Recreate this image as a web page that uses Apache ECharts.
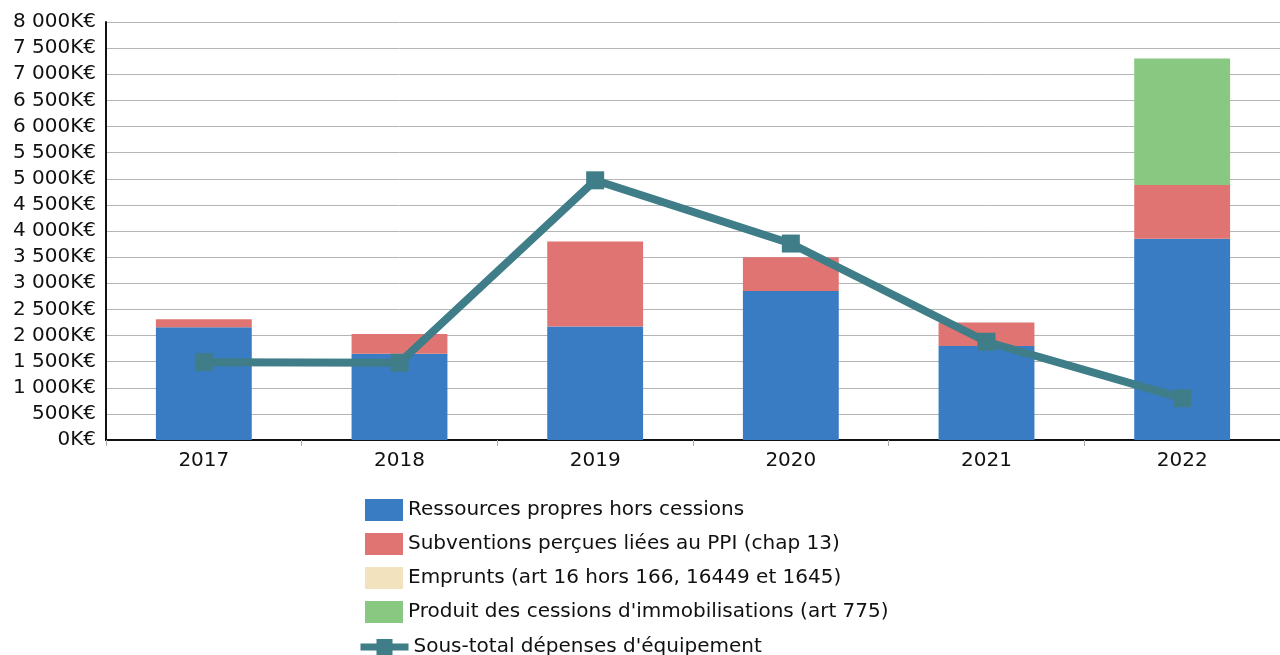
<!DOCTYPE html>
<html>
<head>
<meta charset="utf-8">
<script src="https://cdn.jsdelivr.net/npm/echarts@6/dist/echarts.min.js"></script>
<style>
  html, body { margin: 0; padding: 0; background: #fff; }
  #chart { width: 1280px; height: 655px; }
</style>
</head>
<body>
<div id="chart"></div>
<script>
// Financement des investissements, en K€
const categories = ['2017', '2018', '2019', '2020', '2021', '2022'];
const ressourcesPropres = [2160, 1650, 2170, 2850, 1800, 3850];
const subventions = [150, 380, 1630, 650, 450, 1030];
const emprunts = [0, 0, 0, 0, 0, 0];
const cessions = [0, 0, 0, 0, 0, 2420];
const sousTotalEquipement = [1490, 1480, 4970, 3760, 1880, 800];

const seriesNames = [
  'Ressources propres hors cessions',
  'Subventions perçues liées au PPI (chap 13)',
  'Emprunts (art 16 hors 166, 16449 et 1645)',
  "Produit des cessions d'immobilisations (art 775)",
  "Sous-total dépenses d'équipement"
];

const FONT = 'DejaVu Sans';
const LINE_COLOR = '#3f7d88';

function fmtKE(v) {
  const s = String(Math.round(v));
  return s.replace(/\B(?=(\d{3})+(?!\d))/g, ' ') + 'K€';
}

function barSeries(name, data, color) {
  return {
    name: name,
    type: 'bar',
    stack: 'financement',
    barWidth: '49%',
    data: data,
    itemStyle: { color: color },
    emphasis: { disabled: true }
  };
}

const legendText = { fontFamily: FONT, fontSize: 20, color: '#111' };

const chart = echarts.init(document.getElementById('chart'), null, { renderer: 'canvas' });

chart.setOption({
  animation: false,
  backgroundColor: '#ffffff',
  textStyle: { fontFamily: FONT },
  grid: { left: 106, top: 22, width: 1180, height: 418, containLabel: false },
  legend: [
    {
      // stacked bar series
      orient: 'vertical',
      left: 360,
      top: 494,
      height: 160,
      itemWidth: 38,
      itemHeight: 22,
      itemGap: 12,
      textStyle: legendText,
      data: seriesNames.slice(0, 4).map(n => ({ name: n, icon: 'rect' }))
    },
    {
      // line series
      orient: 'vertical',
      left: 352,
      top: 632,
      itemWidth: 48,
      itemHeight: 20,
      itemGap: 4,
      textStyle: legendText,
      lineStyle: { width: 7 },
      data: [seriesNames[4]]
    }
  ],
  xAxis: {
    type: 'category',
    data: categories,
    boundaryGap: true,
    axisLine: { lineStyle: { color: '#111', width: 2 } },
    axisTick: { show: true, alignWithLabel: false, length: 6, lineStyle: { color: '#aaa' } },
    axisLabel: { fontFamily: FONT, fontSize: 20, color: '#111', margin: 11 }
  },
  yAxis: {
    type: 'value',
    min: 0,
    max: 8000,
    interval: 500,
    axisLine: { show: true, lineStyle: { color: '#111', width: 2 } },
    axisTick: { show: false },
    splitLine: { lineStyle: { color: '#b5b5b5', width: 1 } },
    axisLabel: { fontFamily: FONT, fontSize: 20, color: '#111', margin: 10, formatter: fmtKE }
  },
  series: [
    barSeries(seriesNames[0], ressourcesPropres, '#3a7cc3'),
    barSeries(seriesNames[1], subventions, '#e07472'),
    barSeries(seriesNames[2], emprunts, '#f2e2bd'),
    barSeries(seriesNames[3], cessions, '#88c880'),
    {
      name: seriesNames[4],
      type: 'line',
      data: sousTotalEquipement,
      z: 5,
      symbol: 'rect',
      symbolSize: 18,
      lineStyle: { color: LINE_COLOR, width: 8 },
      itemStyle: { color: LINE_COLOR },
      emphasis: { disabled: true }
    }
  ]
});
</script>
</body>
</html>
